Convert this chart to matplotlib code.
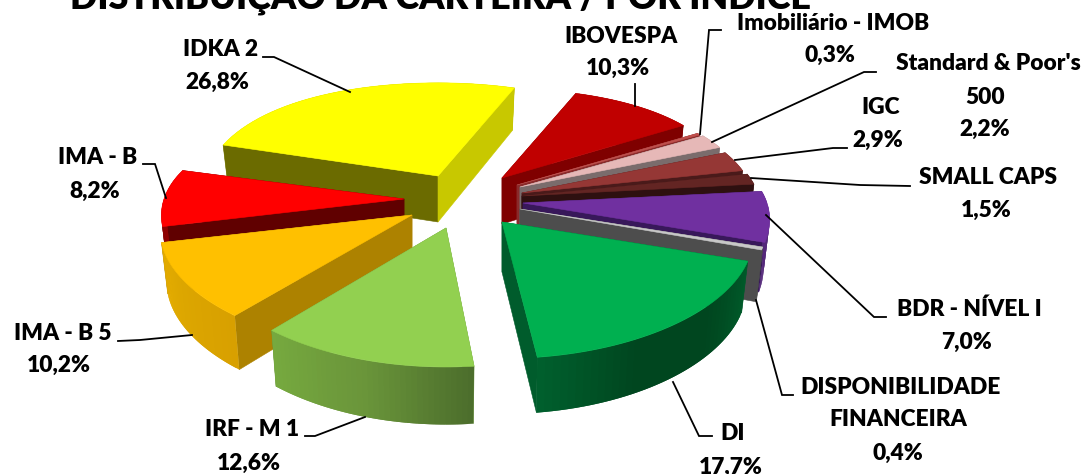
import numpy as np
import matplotlib
matplotlib.use("Agg")
import matplotlib.pyplot as plt
from matplotlib.colors import to_rgb

# ---- data ----
categories = ["IBOVESPA", "Imobiliário - IMOB", "Standard & Poor's 500", "IGC", "SMALL CAPS",
              "BDR - NÍVEL I", "DISPONIBILIDADE FINANCEIRA", "DI", "IRF - M 1",
              "IMA - B 5", "IMA - B", "IDKA 2"]
values = [10.3, 0.3, 2.2, 2.9, 1.5, 7.0, 0.4, 17.7, 12.6, 10.2, 8.2, 26.8]
value_labels = ["10,3%", "0,3%", "2,2%", "2,9%", "1,5%", "7,0%", "0,4%", "17,7%", "12,6%", "10,2%", "8,2%", "26,8%"]
title = "DISTRIBUIÇÃO DA CARTEIRA / POR ÍNDICE"

# ---- style ----
top_colors = ["#c00000", "#c0504d", "#e6b8b7", "#953735", "#632523", "#7030a0",
              "#c8c8c8", "#00b050", "#92d050", "#ffc000", "#ff0000", "#ffff00"]
cut_start = ["#7f0000", "#8a2a2a", "#7a6c6c", "#4a1a1a", "#2e1010", "#38185a",
             "#4d4d4d", "#005c2c", "#6a953a", "#ad8200", "#600000", "#6b6b00"]
cut_end = ["#7f0000", "#8a2a2a", "#7a6c6c", "#4a1a1a", "#2e1010", "#38185a",
           "#4d4d4d", "#005c2c", "#6a953a", "#ad8200", "#600000", "#c8c800"]
wall_stops = [["#900000"], ["#8a2a2a"], ["#a08080"], ["#6a2625"], ["#451a19"], ["#54287a"],
              ["#555555"], ["#005a2a", "#00461f", "#00461f", "#005f2d"],
              ["#4c6e2c", "#6a953a", "#76a93f"], ["#d8a000", "#dca600", "#e5ad00"],
              ["#900000"], ["#b0b000"]]
# ---- layout (pixels): apex x, apex y, Rx, Ry, depth, angle tweak ----
layout = [
    (502, 178, 229, 116, 46, 0), (517, 185, 228, 114, 48, 0), (520, 187, 228, 116, 48, 0),
    (522, 193, 232, 118, 48, 0), (522, 196, 237, 115, 48, 0), (523, 203, 244, 112, 48, 0),
    (520, 209, 245, 108, 50, 0), (502, 222, 248, 111, 50, 1.4), (446, 228, 245, 113, 52, 0),
    (412, 215, 249, 111, 50, 0), (404, 199, 240, 111, 50, 0), (438, 176, 233, 121, 46, 0),
]
draw_order = [11, 10, 9, 8, 0, 1, 2, 3, 4, 5, 6, 7]
START_ANGLE = 68.0
KX, KY = 0.15, 0.23
BOTTOM_X, BOTTOM_Y = 0.975, 1.04

label_lines = [
    (["IBOVESPA", "10,3%"], [(621, 36), (618, 68)]),
    (["Imobiliário - IMOB", "0,3%"], [(833, 23), (830, 55)]),
    (["Standard & Poor's", "500", "2,2%"], [(988, 63), (985, 97), (985, 129)]),
    (["IGC", "2,9%"], [(881, 107), (878, 140)]),
    (["SMALL CAPS", "1,5%"], [(988, 178), (986, 210)]),
    (["BDR - NÍVEL I", "7,0%"], [(969, 309), (966, 342)]),
    (["DISPONIBILIDADE", "FINANCEIRA", "0,4%"], [(901, 387), (898, 420), (898, 453)]),
    (["DI", "17,7%"], [(733, 433), (731, 467)]),
    (["IRF - M 1", "12,6%"], [(252, 430), (249, 463)]),
    (["IMA - B 5", "10,2%"], [(63, 333), (59, 365)]),
    (["IMA - B", "8,2%"], [(98, 157), (95, 191)]),
    (["IDKA 2", "26,8%"], [(221, 49), (217, 82)]),
]
leaders = [
    [(635, 84), (635, 106)],
    [(721, 30), (709, 30), (700, 134)],
    [(712, 142), (864, 72), (876, 72)],
    [(735, 160), (833, 148), (847, 148)],
    [(751, 178), (860, 185), (910, 186)],
    [(766, 215), (874, 317), (886, 317)],
    [(756, 300), (782, 395), (793, 395)],
    [(673, 382), (699, 436), (712, 436)],
    [(365, 417), (315, 436), (305, 436)],
    [(192, 335), (140, 340), (118, 341)],
    [(166, 198), (155, 164), (143, 164)],
    [(263, 57), (274, 57), (350, 92)],
]

plt.rcParams["font.family"] = ["Lato", "DejaVu Sans"]
fig = plt.figure(figsize=(10.91, 4.74), dpi=100)
ax = fig.add_axes([0, 0, 1, 1])
ax.set_xlim(0, 1091)
ax.set_ylim(474, 0)
ax.axis("off")


def rim(i, t, bottom=False):
    ax_, ay_, rx, ry, depth, _ = layout[i]
    s, c = np.sin(np.radians(t)), np.cos(np.radians(t))
    x = rx * c * (1 - KX * s)
    y = ry * s * (1 - KY * s)
    if bottom:
        return ax_ + x * BOTTOM_X, ay_ + depth - y * BOTTOM_Y
    return ax_ + x, ay_ - y


def apex(i, bottom=False):
    return layout[i][0], layout[i][1] + (layout[i][4] if bottom else 0)


def stop_color(stops, f):
    cols = np.array([to_rgb(c) for c in stops])
    if len(cols) == 1:
        return tuple(cols[0])
    p = f * (len(cols) - 1)
    j = min(int(p), len(cols) - 2)
    return tuple(cols[j] + (cols[j + 1] - cols[j]) * (p - j))


def draw_wall(i, ts, zo):
    n = len(ts)
    for k in range(n - 1):
        a, b = ts[k], ts[min(k + 2, n - 1)]  # quads overlap, so no seams show
        pts = [rim(i, a), rim(i, b), rim(i, b, True), rim(i, a, True)]
        col = stop_color(wall_stops[i], k / max(n - 2, 1))
        ax.fill(*zip(*pts), color=col, lw=0, zorder=zo)


edges = START_ANGLE - np.cumsum([0] + [v * 3.6 for v in values])
for n, i in enumerate(draw_order):
    rot = layout[i][5]
    t0, t1 = edges[i] + rot, edges[i + 1] + rot  # t0 > t1
    ts = np.linspace(t0, t1, 40)
    zo = 2 + n
    back = [t for t in ts if np.sin(np.radians(t)) > 0]
    if len(back) > 1:
        draw_wall(i, back, zo)
    ax.fill(*zip(apex(i), rim(i, t0), rim(i, t0, True), apex(i, True)),
            color=cut_start[i], lw=0.4, zorder=zo)
    ax.fill(*zip(apex(i), rim(i, t1), rim(i, t1, True), apex(i, True)),
            color=cut_end[i], lw=0.4, zorder=zo)
    front = [t for t in ts if np.sin(np.radians(t)) <= 0]
    if len(front) > 1:
        draw_wall(i, front, zo)
    top = [apex(i)] + [rim(i, t) for t in ts]
    ax.fill(*zip(*top), color=top_colors[i], lw=0.4, zorder=zo)

for pts in leaders:
    ax.plot(*zip(*pts), color="black", lw=1.3, zorder=30, solid_joinstyle="miter")

for lines, positions in label_lines:
    for s, (x, y) in zip(lines, positions):
        ax.text(x, y, s, ha="center", va="center", fontsize=16.4, fontweight="heavy",
                color="black", zorder=40)

ax.text(440, 9.5, title, ha="center", va="baseline", fontsize=25.9, fontweight="heavy",
        color="black", zorder=40)

fig.savefig("out.png", dpi=100)
